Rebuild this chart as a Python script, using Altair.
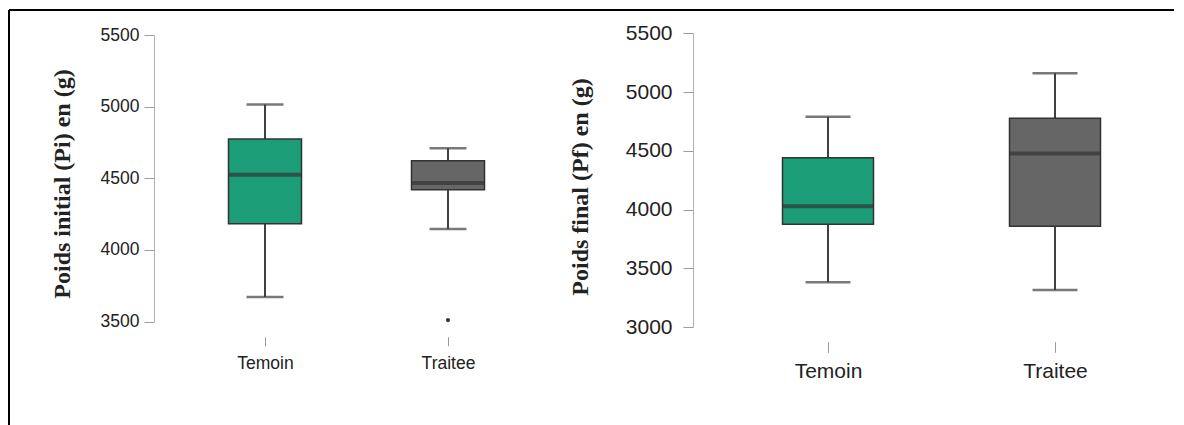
import altair as alt
import pandas as pd

groups = ["Temoin", "Traitee"]

# Poids initial (Pi)
pi_lo = [3671, 4145]
pi_q1 = [4182, 4420]
pi_med = [4524, 4466]
pi_q3 = [4774, 4622]
pi_hi = [5014, 4709]
pi_out_group = ["Traitee"]
pi_out_val = [3510]

# Poids final (Pf)
pf_lo = [3381, 3316]
pf_q1 = [3875, 3858]
pf_med = [4028, 4477]
pf_q3 = [4440, 4776]
pf_hi = [4790, 5159]

colors = ["#1b9e77", "#666666"]

df_pi = pd.DataFrame({"group": groups, "lo": pi_lo, "q1": pi_q1, "med": pi_med, "q3": pi_q3, "hi": pi_hi})
df_pi_out = pd.DataFrame({"group": pi_out_group, "val": pi_out_val})
df_pf = pd.DataFrame({"group": groups, "lo": pf_lo, "q1": pf_q1, "med": pf_med, "q3": pf_q3, "hi": pf_hi})

LABEL_COLOR = "#222222"
DOMAIN_COLOR = "#b0b0b0"
TICK_COLOR = "#9a9a9a"
DARK = "#333333"


def panel(df, y_domain, y_range, x_range, box_w, cap_w, title, title_x, title_y,
          label_font, label_size, y_label_pad, x_offset, x_tick, x_label_pad, width, height,
          outliers=None, frame=False):
    xenc = alt.X("group:N", sort=groups,
                 scale=alt.Scale(type="point", range=x_range, domain=groups, padding=0),
                 axis=alt.Axis(title=None, domain=False, grid=False, labelAngle=0,
                               labelFont=label_font, labelFontSize=label_size, labelColor=LABEL_COLOR,
                               tickColor=TICK_COLOR, tickSize=x_tick, tickWidth=1,
                               labelPadding=x_label_pad, offset=x_offset))
    yscale = alt.Scale(domain=y_domain, range=y_range, nice=False, zero=False)
    yaxis = alt.Axis(title=title, values=list(range(y_domain[0], y_domain[1] + 1, 500)),
                     format="d",
                     grid=False, domainColor=DOMAIN_COLOR, domainWidth=1,
                     tickColor=TICK_COLOR, tickSize=10, tickWidth=1,
                     labelFont=label_font, labelFontSize=label_size, labelColor=LABEL_COLOR,
                     labelPadding=y_label_pad,
                     titleFont="Liberation Serif", titleFontWeight="bold", titleFontSize=24,
                     titleColor="#222222", titleAngle=270, titleX=title_x, titleY=title_y,
                     titleBaseline="alphabetic", titleAlign="center")
    base = alt.Chart(df)
    whisk = base.mark_rule(color="#404040", strokeWidth=2).encode(
        x=xenc, y=alt.Y("lo:Q", scale=yscale, axis=yaxis), y2="hi:Q")
    box = base.mark_bar(size=box_w, stroke=DARK, strokeWidth=1.5).encode(
        x=alt.X("group:N", sort=groups), y="q1:Q", y2="q3:Q",
        color=alt.Color("group:N", scale=alt.Scale(domain=groups, range=colors), legend=None))
    med = base.mark_tick(size=box_w, thickness=4, color=DARK).encode(
        x=alt.X("group:N", sort=groups), y="med:Q")
    cap_lo = base.mark_tick(size=cap_w, thickness=2.5, color="#404040").encode(
        x=alt.X("group:N", sort=groups), y="lo:Q")
    cap_hi = base.mark_tick(size=cap_w, thickness=2.5, color="#404040").encode(
        x=alt.X("group:N", sort=groups), y="hi:Q")
    layers = [whisk, box, med, cap_lo, cap_hi]
    if outliers is not None:
        pts = alt.Chart(outliers).mark_point(filled=True, size=18, color=DARK, opacity=1).encode(
            x=alt.X("group:N", sort=groups), y="val:Q")
        layers.append(pts)
    if frame:
        fdf = pd.DataFrame({"k": [0]})
        top = alt.Chart(fdf).mark_rule(color="#000000", strokeWidth=2).encode(
            x=alt.value(-145), x2=alt.value(1020), y=alt.value(-20))
        left = alt.Chart(fdf).mark_rule(color="#000000", strokeWidth=2).encode(
            x=alt.value(-145), y=alt.value(-20), y2=alt.value(395))
        layers += [top, left]
    return alt.layer(*layers).properties(width=width, height=height)


left = panel(df_pi, [3500, 5500], [291.5, 5], [111, 294], 73, 37,
             "Poids initial (Pi) en (g)", -84.5, 153.5,
             "Liberation Sans", 17.5, 5, 6.7, 9, 8.5, 400, 300,
             outliers=df_pi_out, frame=True)

right = panel(df_pf, [3000, 5500], [297, 3.3], [135, 362], 91, 45,
              "Poids final (Pf) en (g)", -106, 156.5,
              "Liberation Sans", 21, 11, 11.7, 10.6, 8, 470, 300)

chart = alt.hconcat(left, right, spacing=139, bounds="flush").properties(
    padding={"top": 1, "left": 0, "right": 0, "bottom": 0},
    background="white"
).configure_view(strokeWidth=0, stroke="transparent")

chart.save("out.html", embed_options={"renderer": "svg", "actions": False})
